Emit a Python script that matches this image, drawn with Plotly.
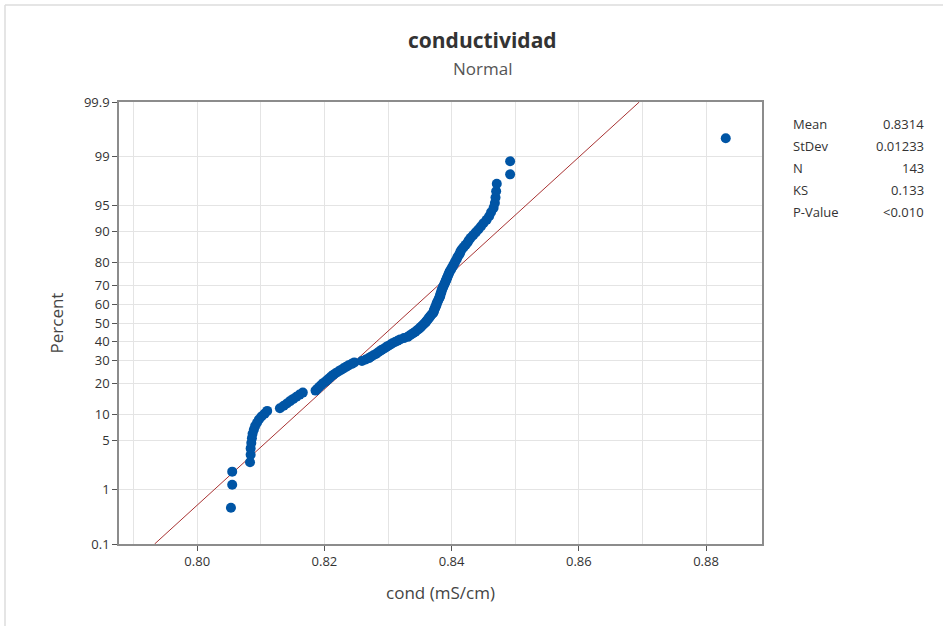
import math
import plotly.graph_objects as go

# ---- data ----
cond_values = [
    0.8053, 0.8055, 0.8055,
    0.8083, 0.8084, 0.8084, 0.8085, 0.8086, 0.8087, 0.8089, 0.8091, 0.8094, 0.8097,
    0.8101, 0.8106, 0.8110,
    0.8130, 0.8136, 0.8141, 0.8146, 0.8151, 0.8156, 0.8161, 0.8166,
    0.8186, 0.8189, 0.8192, 0.8195, 0.8198, 0.8202, 0.8205, 0.8208, 0.8211, 0.8214,
    0.8218, 0.8222, 0.8226, 0.8230, 0.8234, 0.8238, 0.8243, 0.8247,
    0.8259, 0.8265, 0.8270, 0.8273, 0.8277, 0.8281, 0.8284, 0.8287, 0.8290, 0.8294,
    0.8297, 0.8300, 0.8304, 0.8307, 0.8311, 0.8315, 0.8319,
    0.8325, 0.8331, 0.8334, 0.8337, 0.8340, 0.8343, 0.8345, 0.8348, 0.8350, 0.8352,
    0.8354, 0.8356, 0.8358, 0.8360, 0.8361, 0.8363, 0.8364, 0.8366, 0.8367, 0.8369,
    0.8371, 0.8372, 0.8372, 0.8373, 0.8374, 0.8375, 0.8376, 0.8376, 0.8377, 0.8378,
    0.8379, 0.8380, 0.8381, 0.8382, 0.8382, 0.8383, 0.8384, 0.8384, 0.8385, 0.8386,
    0.8387, 0.8388, 0.8389, 0.8390, 0.8391, 0.8392, 0.8393, 0.8394, 0.8395, 0.8396,
    0.8397, 0.8399, 0.8400, 0.8402, 0.8403, 0.8405, 0.8406, 0.8408, 0.8409, 0.8411,
    0.8413, 0.8414, 0.8416, 0.8419, 0.8422, 0.8425, 0.8427, 0.8430, 0.8434, 0.8438,
    0.8442, 0.8446, 0.8450, 0.8455, 0.8459, 0.8462, 0.8466, 0.8468, 0.8469, 0.8470,
    0.8471, 0.8492, 0.8492, 0.8831,
]
mean_value = 0.8314
stdev_value = 0.01233
stat_labels = ["Mean", "StDev", "N", "KS", "P-Value"]
stat_texts = ["0.8314", "0.01233", "143", "0.133", "<0.010"]
percent_ticks = [0.1, 1, 5, 10, 20, 30, 40, 50, 60, 70, 80, 90, 95, 99, 99.9]
percent_tick_labels = ["0.1", "1", "5", "10", "20", "30", "40", "50", "60", "70", "80", "90", "95", "99", "99.9"]
x_tick_vals = [0.80, 0.82, 0.84, 0.86, 0.88]


def norm_ppf(p):
    """Inverse standard normal CDF (Acklam's rational approximation)."""
    a = [-3.969683028665376e+01, 2.209460984245205e+02, -2.759285104469687e+02,
         1.383577518672690e+02, -3.066479806614716e+01, 2.506628277459239e+00]
    b = [-5.447609879822406e+01, 1.615858368580409e+02, -1.556989798598866e+02,
         6.680131188771972e+01, -1.328068155288572e+01]
    c = [-7.784894002430293e-03, -3.223964580411365e-01, -2.400758277161838e+00,
         -2.549671010243277e+00, 4.374664141464968e+00, 2.938163982698783e+00]
    d = [7.784695709041462e-03, 3.224671290700398e-01, 2.445134137142996e+00,
         3.754408661907416e+00]
    plow = 0.02425
    if p < plow:
        q = math.sqrt(-2 * math.log(p))
        return (((((c[0]*q+c[1])*q+c[2])*q+c[3])*q+c[4])*q+c[5]) / \
               ((((d[0]*q+d[1])*q+d[2])*q+d[3])*q+1)
    if p > 1 - plow:
        q = math.sqrt(-2 * math.log(1 - p))
        return -(((((c[0]*q+c[1])*q+c[2])*q+c[3])*q+c[4])*q+c[5]) / \
                ((((d[0]*q+d[1])*q+d[2])*q+d[3])*q+1)
    q = p - 0.5
    r = q * q
    return (((((a[0]*r+a[1])*r+a[2])*r+a[3])*r+a[4])*r+a[5])*q / \
           (((((b[0]*r+b[1])*r+b[2])*r+b[3])*r+b[4])*r+1)


n = len(cond_values)
xs = sorted(cond_values)
# median-rank plotting positions (Benard)
zs = [norm_ppf((i + 1 - 0.3) / (n + 0.4)) for i in range(n)]

z_lo = norm_ppf(0.001)
z_hi = norm_ppf(0.999)
tick_z = [norm_ppf(p / 100.0) for p in percent_ticks]

line_x = [mean_value + z_lo * stdev_value, mean_value + z_hi * stdev_value]
line_y = [z_lo, z_hi]

FONT = "Open Sans, Noto Sans, sans-serif"

fig = go.Figure()
fig.add_trace(go.Scatter(
    x=line_x, y=line_y, mode="lines",
    line=dict(color="#A83232", width=1),
    hoverinfo="skip", showlegend=False,
))
fig.add_trace(go.Scatter(
    x=xs, y=zs, mode="markers",
    marker=dict(color="#0055A5", size=10, line=dict(width=0)),
    showlegend=False,
))

fig.update_layout(
    width=943, height=626,
    margin=dict(l=119, r=181, t=102, b=82),
    paper_bgcolor="white", plot_bgcolor="white",
    font=dict(family=FONT, color="#333333", size=13),
    showlegend=False,
)

fig.update_xaxes(
    range=[0.7877, 0.8888],
    tickvals=x_tick_vals, tickformat=".2f",
    showgrid=True, gridcolor="#E4E4E4", gridwidth=1,
    minor=dict(dtick=0.01, tick0=0.80, showgrid=True, gridcolor="#E4E4E4", gridwidth=1),
    showline=True, linecolor="#8C8C8C", linewidth=1.5, mirror=True,
    ticks="outside", ticklen=5, tickcolor="#555555",
    tickfont=dict(size=13, color="#333333"),
    zeroline=False,
    title=dict(text="cond (mS/cm)", font=dict(size=17, color="#444444"), standoff=18),
)
fig.update_yaxes(
    range=[z_lo, z_hi],
    tickvals=tick_z, ticktext=percent_tick_labels,
    showgrid=True, gridcolor="#E4E4E4", gridwidth=1,
    showline=True, linecolor="#8C8C8C", linewidth=1.5, mirror=True,
    ticks="outside", ticklen=5, tickcolor="#555555",
    tickfont=dict(size=13, color="#333333"),
    zeroline=False,
    title=dict(text="Percent", font=dict(size=17, color="#444444"), standoff=16),
)


# convert page pixels to paper coords (plot area: x 119..762, y 102..544)
def py(pix):
    return (544 - pix) / 442.0


def px(pix):
    return (pix - 119) / 643.0


annotations = [
    dict(text="<b>conductividad</b>", x=px(482), y=py(40), xref="paper", yref="paper",
         xanchor="center", yanchor="middle", showarrow=False,
         font=dict(size=21, color="#333333", family=FONT)),
    dict(text="Normal", x=px(482), y=py(68), xref="paper", yref="paper",
         xanchor="center", yanchor="middle", showarrow=False,
         font=dict(size=17, color="#555555", family=FONT)),
]
stat_rows_y = [124, 146, 168, 190, 212]
for lab, val, yy in zip(stat_labels, stat_texts, stat_rows_y):
    annotations.append(dict(text=lab, x=px(791), y=py(yy), xref="paper", yref="paper",
                            xanchor="left", yanchor="middle", showarrow=False,
                            font=dict(size=13, color="#333333", family=FONT)))
    annotations.append(dict(text=val, x=px(926), y=py(yy), xref="paper", yref="paper",
                            xanchor="right", yanchor="middle", showarrow=False,
                            font=dict(size=13, color="#333333", family=FONT)))
fig.update_layout(annotations=annotations)

# light outer frame (top and left edges of the window)
fig.add_shape(type="line", xref="paper", yref="paper",
              x0=px(5), x1=px(943), y0=py(5), y1=py(5),
              line=dict(color="#DDDDDD", width=1.5), layer="below")
fig.add_shape(type="line", xref="paper", yref="paper",
              x0=px(5), x1=px(5), y0=py(5), y1=py(626),
              line=dict(color="#DDDDDD", width=1.5), layer="below")

fig.write_html("out.html",
               config={"displayModeBar": False},
               post_script="document.body.style.margin='0';document.body.style.padding='0';")
